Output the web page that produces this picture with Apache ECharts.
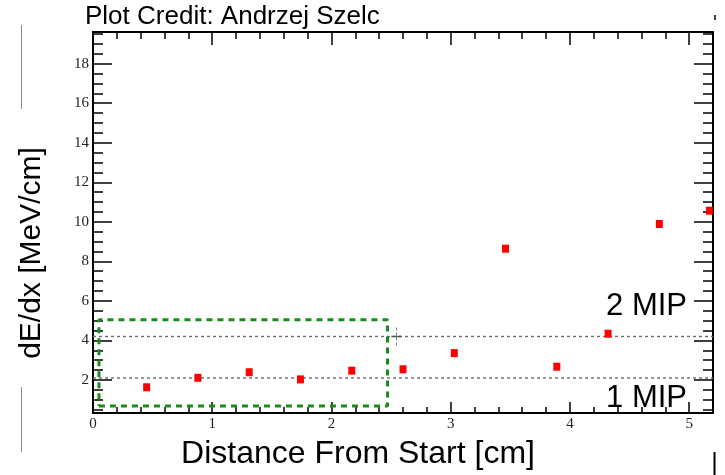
<!DOCTYPE html>
<html>
<head>
<meta charset="utf-8">
<script src="https://cdn.jsdelivr.net/npm/echarts@6/dist/echarts.min.js"></script>
<style>
  html, body { margin: 0; padding: 0; background: #fff; }
  #chart { width: 725px; height: 475px; }
</style>
</head>
<body>
<div id="chart"></div>
<script>
// Track segment positions along the track and the measured dE/dx per segment
const distance = [0.45, 0.88, 1.31, 1.74, 2.17, 2.60, 3.03, 3.46, 3.89, 4.32, 4.75, 5.17];
const dEdx     = [1.63, 2.11, 2.39, 2.03, 2.47, 2.54, 3.36, 8.64, 2.67, 4.34, 9.89, 10.56];

// Reference MIP levels (1 MIP, 2 MIP)
const mipLevels = [2.1, 4.2];
const mipNames  = ['1 MIP', '2 MIP'];

// Highlighted start-of-track region
const boxX = [0.05, 2.47];
const boxY = [0.68, 5.05];

// Small crosshair marker on the 2 MIP line
const cursorPoint = [2.545, 4.2];

// Axis ranges and tick labels
const xRange = [0, 5.2];
const yRange = [0.33, 19.6];
const xTickLabels = [0, 1, 2, 3, 4, 5];
const yTickLabels = [2, 4, 6, 8, 10, 12, 14, 16, 18];
const xMinorStep = 0.2;
const yMinorStep = 0.5;

function stepValues(lo, hi, step) {
  const out = [];
  const first = Math.ceil(lo / step - 1e-9);
  for (let k = first; k * step <= hi + 1e-9; k++) out.push(+(k * step).toFixed(4));
  return out;
}
const xMinor = stepValues(xRange[0], xRange[1], xMinorStep);
const yMinor = stepValues(yRange[0], yRange[1], yMinorStep);

const tickFont = { fontFamily: 'Liberation Serif', fontSize: 15, color: '#222' };
const frameLine = { color: '#000', width: 2 };
const tickLine = { color: '#000', width: 1.5 };

function xAxisDef(position, major, showLine) {
  return {
    type: 'value', min: xRange[0], max: xRange[1], position: position,
    axisLine: { show: showLine, onZero: false, lineStyle: frameLine },
    axisTick: major
      ? { inside: true, length: position === 'top' ? 13 : 11, customValues: xTickLabels, lineStyle: tickLine }
      : { inside: true, length: position === 'top' ? 7 : 6, customValues: xMinor, lineStyle: tickLine },
    axisLabel: (major && position === 'bottom')
      ? Object.assign({ customValues: xTickLabels, margin: 4 }, tickFont)
      : { show: false },
    splitLine: { show: false }
  };
}
function yAxisDef(position, major, showLine) {
  return {
    type: 'value', min: yRange[0], max: yRange[1], position: position,
    axisLine: { show: showLine, onZero: false, lineStyle: frameLine },
    axisTick: major
      ? { inside: true, length: 19, customValues: yTickLabels, lineStyle: tickLine }
      : { inside: true, length: 10, customValues: yMinor, lineStyle: tickLine },
    axisLabel: (major && position === 'left')
      ? Object.assign({ customValues: yTickLabels, margin: 4 }, tickFont)
      : { show: false },
    splitLine: { show: false }
  };
}

const chart = echarts.init(document.getElementById('chart'), null, { renderer: 'canvas' });

const series = [];
mipLevels.forEach(function (lvl, i) {
  series.push({
    name: mipNames[i], type: 'line', symbol: 'none', silent: true, z: 3,
    data: [[xRange[0], lvl], [xRange[1], lvl]],
    lineStyle: { color: '#6e6e6e', width: 1.4, type: [3, 3] }
  });
});
series.push({
  name: 'region', type: 'line', symbol: 'none', silent: true, z: 4,
  data: [[boxX[0], boxY[0]], [boxX[1], boxY[0]], [boxX[1], boxY[1]], [boxX[0], boxY[1]], [boxX[0], boxY[0]]],
  lineStyle: { color: '#1a8c1a', width: 3, type: [6, 5] }
});
series.push({
  name: 'cursor', type: 'scatter', silent: true, z: 5,
  data: [cursorPoint],
  symbol: 'path://M5,0 L5,3 M5,5 L5,8 M5,10 L5,13 M5,15 L5,18 M0,9 L10,9',
  symbolSize: [10, 18],
  itemStyle: { color: 'none', borderColor: '#555', borderWidth: 1, opacity: 1 }
});
series.push({
  name: 'dE/dx', type: 'scatter', z: 10,
  data: distance.map(function (x, i) { return [x, dEdx[i]]; }),
  symbol: 'rect', symbolSize: [7, 8],
  itemStyle: { color: '#ff0000', opacity: 1 }
});

chart.setOption({
  animation: false,
  backgroundColor: '#ffffff',
  grid: { left: 93, right: 12, top: 32, bottom: 62 },
  xAxis: [
    xAxisDef('bottom', true, true),
    xAxisDef('bottom', false, false),
    xAxisDef('top', true, true),
    xAxisDef('top', false, false)
  ],
  yAxis: [
    yAxisDef('left', true, true),
    yAxisDef('left', false, false),
    yAxisDef('right', true, true),
    yAxisDef('right', false, false)
  ],
  series: series,
  graphic: [
    { type: 'text', left: 85, top: 4, style: { text: 'Plot Credit: Andrzej Szelc', fontFamily: 'Liberation Sans', fontSize: 26, fill: '#000' } },
    { type: 'text', x: 358, y: 454, style: { text: 'Distance From Start [cm]', fontFamily: 'Liberation Sans', fontSize: 32, fill: '#000', align: 'center', verticalAlign: 'middle' } },
    { type: 'text', x: 32, y: 253, rotation: Math.PI / 2, style: { text: 'dE/dx [MeV/cm]', fontFamily: 'Liberation Sans', fontSize: 30, fill: '#000', align: 'center', verticalAlign: 'middle' } },
    { type: 'text', x: 687, y: 306, style: { text: mipNames[1], fontFamily: 'Liberation Sans', fontSize: 31, fill: '#000', align: 'right', verticalAlign: 'middle' } },
    { type: 'text', x: 687, y: 398, style: { text: mipNames[0], fontFamily: 'Liberation Sans', fontSize: 31, fill: '#000', align: 'right', verticalAlign: 'middle' } },
    { type: 'line', shape: { x1: 21.5, y1: 25, x2: 21.5, y2: 109 }, style: { stroke: '#888', lineWidth: 1 } },
    { type: 'line', shape: { x1: 21.5, y1: 387, x2: 21.5, y2: 452 }, style: { stroke: '#888', lineWidth: 1 } },
    { type: 'line', shape: { x1: 714.5, y1: 452, x2: 714.5, y2: 475 }, style: { stroke: '#000', lineWidth: 2 } },
    { type: 'line', shape: { x1: 715, y1: 15, x2: 715, y2: 20 }, style: { stroke: '#000', lineWidth: 1.5 } }
  ]
});
</script>
</body>
</html>
